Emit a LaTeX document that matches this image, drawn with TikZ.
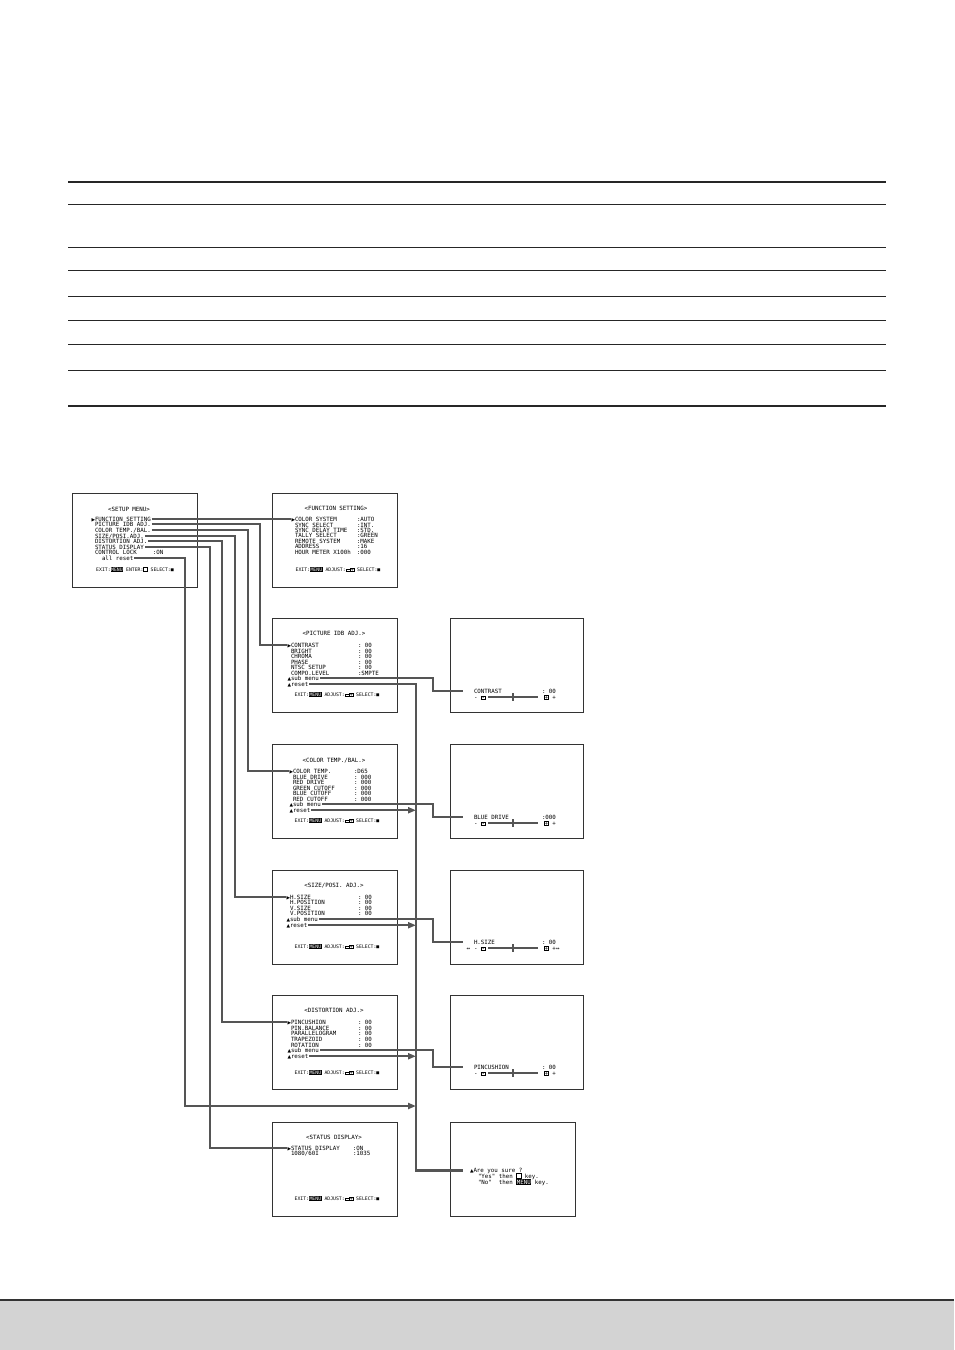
\documentclass[tikz,border=0pt]{standalone}
\usepackage{fontspec}
\setmonofont{DejaVu Sans Mono}
\newfontfamily\symf{DejaVu Sans}
\usetikzlibrary{arrows.meta,calc}
\definecolor{LinkGray}{HTML}{555555}
\definecolor{FrameGray}{HTML}{333333}
\definecolor{BandGray}{HTML}{D3D3D3}
% key caps and marks shown on the monitor screens
\newcommand{\kinv}[1]{{\setlength{\fboxsep}{0.5pt}\colorbox{black}{\textcolor{white}{#1}}}}
\newcommand{\kbox}[1]{{\setlength{\fboxsep}{0.3pt}\setlength{\fboxrule}{0.4pt}\fbox{#1}}}
\newcommand{\kv}[3][62pt]{\makebox[#1][l]{#2}#3}
\newcommand{\selmk}{\makebox[3.5pt][l]{\symf\fontsize{4.6}{5}\selectfont ▶}}
\newcommand{\upmk}{\makebox[3.5pt][l]{\symf\fontsize{4.6}{5}\selectfont ▲}}

\begin{document}
\begin{tikzpicture}[
        x=1pt, y=-1pt,
        screen/.style={
            rectangle, draw=FrameGray, line width=0.7pt,
            minimum width=125pt, minimum height=94pt, inner sep=0pt
        },
        wide/.style={screen, minimum width=133pt},
        txt/.style={
            font=\ttfamily\fontsize{5.8}{6}\selectfont,
            inner sep=0pt, outer sep=1pt, anchor=base west
        },
        exitrow/.style={txt, font=\ttfamily\fontsize{4.8}{5}\selectfont, anchor=base},
        title/.style={txt, anchor=base},
        link/.style={draw=LinkGray, line width=2.2pt},
        resetlink/.style={link, -{Triangle[length=8pt, width=6pt]}},
        slider/.style={draw=LinkGray, line width=2.6pt},
        rule/.style={draw=black!85, line width=0.5pt}
    ]
    \useasboundingbox (0,0) rectangle (954,1350);

    % blank table at the top
    \draw[rule, line width=1.4pt] (68,182) -- (886,182);
    \foreach \yy in {204,247,270,296,320,344,370}
        \draw[rule] (68,\yy) -- (886,\yy);
    \draw[rule, line width=1.4pt] (68,406) -- (886,406);

    % footer band
    \fill[BandGray] (0,1300) rectangle (954,1350);
    \draw[black!80, line width=1.5pt] (0,1300) -- (954,1300);

    % screens
    \node[screen] (setup) at (134.5,540) {};
    \node[screen] (func) at (334.5,540) {};
    \node[screen] (pict) at (334.5,665.5) {};
    \node[screen] (ctemp) at (334.5,791.5) {};
    \node[screen] (size) at (334.5,917.5) {};
    \node[screen] (dist) at (334.5,1042.5) {};
    \node[screen] (stat) at (334.5,1169) {};
    \node[wide] (contr) at (516.5,665.5) {};
    \node[wide] (bdrive) at (516.5,791.5) {};
    \node[wide] (hsize) at (516.5,917.5) {};
    \node[wide] (pincu) at (516.5,1042.5) {};
    \node[screen] (sure) at (512.5,1169) {};

    % SETUP MENU
    \node[title] (smT) at (129,511) {<SETUP MENU>};
    \node[txt] (sm1) at (90.5,521) {\selmk FUNCTION SETTING};
    \node[txt] (sm2) at (94,526.5) {PICTURE IDB ADJ.};
    \node[txt] (sm3) at (94,532) {COLOR TEMP./BAL.};
    \node[txt] (sm4) at (94,538) {SIZE/POSI.ADJ.};
    \node[txt] (sm5) at (94,543.5) {DISTORTION ADJ.};
    \node[txt] (sm6) at (94,549) {STATUS DISPLAY};
    \node[txt] (sm7) at (94,554.5) {\kv[58pt]{CONTROL LOCK}{:ON}};
    \node[txt] (sm8) at (101,560.5) {all reset};
    \node[exitrow] (smX) at (135,571) {EXIT:\kinv{MENU} ENTER:\kbox{\phantom{0}} SELECT:■};

    % FUNCTION SETTING
    \node[title] (fsT) at (336,510) {<FUNCTION SETTING>};
    \node[txt] (fs1) at (290.5,521) {\selmk\kv{COLOR SYSTEM}{:AUTO}};
    \node[txt] (fs2) at (294,527) {\kv{SYNC SELECT}{:INT.}};
    \node[txt] (fs3) at (294,532) {\kv{SYNC DELAY TIME}{:STD.}};
    \node[txt] (fs4) at (294,537.5) {\kv{TALLY SELECT}{:GREEN}};
    \node[txt] (fs5) at (294,543) {\kv{REMOTE SYSTEM}{:MAKE}};
    \node[txt] (fs6) at (294,548.5) {\kv{ADDRESS}{:16}};
    \node[txt] (fs7) at (294,554) {\kv{HOUR METER X100h}{:000}};
    \node[exitrow] (fsX) at (338,571) {EXIT:\kinv{MENU} ADJUST:\kbox{-}\kbox{+} SELECT:■};

    % PICTURE IDB ADJ.
    \node[title] (pcT) at (334,635) {<PICTURE IDB ADJ.>};
    \node[txt] (pc1) at (286.5,647) {\selmk\kv[67pt]{CONTRAST}{: 00}};
    \node[txt] (pc2) at (290,653) {\kv[67pt]{BRIGHT}{: 00}};
    \node[txt] (pc3) at (290,658) {\kv[67pt]{CHROMA}{: 00}};
    \node[txt] (pc4) at (290,664) {\kv[67pt]{PHASE}{: 00}};
    \node[txt] (pc5) at (290,669) {\kv[67pt]{NTSC SETUP}{: 00}};
    \node[txt] (pc6) at (290,675) {\kv[67pt]{COMPO.LEVEL}{:SMPTE}};
    \node[txt] (pc7) at (286.5,680) {\upmk sub menu};
    \node[txt] (pc8) at (286.5,686) {\upmk reset};
    \node[exitrow] (pcX) at (337,696) {EXIT:\kinv{MENU} ADJUST:\kbox{-}\kbox{+} SELECT:■};

    % COLOR TEMP./BAL.
    \node[title] (ctT) at (334,762) {<COLOR TEMP./BAL.>};
    \node[txt] (ct1) at (288.5,773) {\selmk\kv[61pt]{COLOR TEMP.}{:D65}};
    \node[txt] (ct2) at (292,779) {\kv[61pt]{BLUE DRIVE}{: 000}};
    \node[txt] (ct3) at (292,784) {\kv[61pt]{RED DRIVE}{: 000}};
    \node[txt] (ct4) at (292,790) {\kv[61pt]{GREEN CUTOFF}{: 000}};
    \node[txt] (ct5) at (292,795) {\kv[61pt]{BLUE CUTOFF}{: 000}};
    \node[txt] (ct6) at (292,801) {\kv[61pt]{RED CUTOFF}{: 000}};
    \node[txt] (ct7) at (288.5,806) {\upmk sub menu};
    \node[txt] (ct8) at (288.5,812) {\upmk reset};
    \node[exitrow] (ctX) at (337,822) {EXIT:\kinv{MENU} ADJUST:\kbox{-}\kbox{+} SELECT:■};

    % SIZE/POSI. ADJ.
    \node[title] (szT) at (334,887) {<SIZE/POSI. ADJ.>};
    \node[txt] (sz1) at (285.5,899) {\selmk\kv[68pt]{H.SIZE}{: 00}};
    \node[txt] (sz2) at (289,904) {\kv[68pt]{H.POSITION}{: 00}};
    \node[txt] (sz3) at (289,910) {\kv[68pt]{V.SIZE}{: 00}};
    \node[txt] (sz4) at (289,915) {\kv[68pt]{V.POSITION}{: 00}};
    \node[txt] (sz5) at (285.5,921) {\upmk sub menu};
    \node[txt] (sz6) at (285.5,927) {\upmk reset};
    \node[exitrow] (szX) at (337,948) {EXIT:\kinv{MENU} ADJUST:\kbox{-}\kbox{+} SELECT:■};

    % DISTORTION ADJ.
    \node[title] (dsT) at (334,1012) {<DISTORTION ADJ.>};
    \node[txt] (ds1) at (286.5,1024) {\selmk\kv[67pt]{PINCUSHION}{: 00}};
    \node[txt] (ds2) at (290,1030) {\kv[67pt]{PIN.BALANCE}{: 00}};
    \node[txt] (ds3) at (290,1035) {\kv[67pt]{PARALLELOGRAM}{: 00}};
    \node[txt] (ds4) at (290,1041) {\kv[67pt]{TRAPEZOID}{: 00}};
    \node[txt] (ds5) at (290,1047) {\kv[67pt]{ROTATION}{: 00}};
    \node[txt] (ds6) at (286.5,1052) {\upmk sub menu};
    \node[txt] (ds7) at (286.5,1058) {\upmk reset};
    \node[exitrow] (dsX) at (337,1074) {EXIT:\kinv{MENU} ADJUST:\kbox{-}\kbox{+} SELECT:■};

    % STATUS DISPLAY
    \node[title] (stT) at (334,1139) {<STATUS DISPLAY>};
    \node[txt] (st1) at (286.5,1150) {\selmk\kv{STATUS DISPLAY}{:ON}};
    \node[txt] (st2) at (290,1155.5) {\kv{1080/60I}{:1035}};
    \node[exitrow] (stX) at (337,1200) {EXIT:\kinv{MENU} ADJUST:\kbox{-}\kbox{+} SELECT:■};

    % adjustment screens
    \foreach \nm/\yy/\lab/\val in {cn/619/CONTRAST/{: 00}, bd/745/BLUE DRIVE/{:000},
                                   hs/870/H.SIZE/{: 00}, pn/995/PINCUSHION/{: 00}} {
        \node[txt] (\nm-lab) at (473,\yy+74) {\lab};
        \node[txt] (\nm-val) at (541,\yy+74) {\val};
        \node[txt] (\nm-dn) at (473,\yy+80) {- \kbox{-}};
        \node[txt] (\nm-upk) at (543,\yy+80) {\kbox{+} +};
        \draw[slider] (488,\yy+78) -- (538,\yy+78);
        \fill[LinkGray] (511.6,\yy+74) rectangle (514.4,\yy+82);
    }
    \node[txt, anchor=base east] (hs-l) at (471,950) {↔};
    \node[txt] (hs-r) at (555,950) {↔};

    % confirmation screen
    \node[txt] (ays1) at (469,1172) {\upmk Are you sure ?};
    \node[txt] (ays2) at (477,1178) {"Yes" then \kbox{\phantom{0}} key.};
    \node[txt] (ays3) at (477,1184) {"No"~~then \kinv{MENU} key.};

    % trunk positions
    \coordinate (tA) at (260,0);
    \coordinate (tB) at (248,0);
    \coordinate (tC) at (235,0);
    \coordinate (tD) at (222,0);
    \coordinate (tE) at (210,0);
    \coordinate (tF) at (185,0);
    \coordinate (tS) at (433,0);
    \coordinate (tR) at (416,0);
    \coordinate (rsAll) at (416,1106);

    % setup menu to sub screens
    \draw[link] (sm1.east) -- (sm1.east -| fs1.west);
    \draw[link] (sm2.east) -| (tA |- pc1.west) -- (pc1.west);
    \draw[link] (sm3.east) -| (tB |- ct1.west) -- (ct1.west);
    \draw[link] (sm4.east) -| (tC |- sz1.west) -- (sz1.west);
    \draw[link] (sm5.east) -| (tD |- ds1.west) -- (ds1.west);
    \draw[link] (sm6.east) -| (tE |- st1.west) -- (st1.west);
    \draw[resetlink] (sm8.east) -| (tF |- rsAll) -- (rsAll);

    % sub menus to adjustment screens
    \draw[link] (pc7.east) -| (tS |- cn-lab.west) -- ([xshift=-10pt]cn-lab.west);
    \draw[link] (ct7.east) -| (tS |- bd-lab.west) -- ([xshift=-10pt]bd-lab.west);
    \draw[link] (sz5.east) -| (tS |- hs-lab.west) -- ([xshift=-10pt]hs-lab.west);
    \draw[link] (ds6.east) -| (tS |- pn-lab.west) -- ([xshift=-10pt]pn-lab.west);

    % resets to confirmation
    \draw[link] (pc8.east) -| (tR |- ays1.west) -- ([xshift=-6pt]ays1.west);
    \draw[resetlink] (ct8.east) -- (ct8.east -| tR);
    \draw[resetlink] (sz6.east) -- (sz6.east -| tR);
    \draw[resetlink] (ds7.east) -- (ds7.east -| tR);
\end{tikzpicture}
\end{document}
